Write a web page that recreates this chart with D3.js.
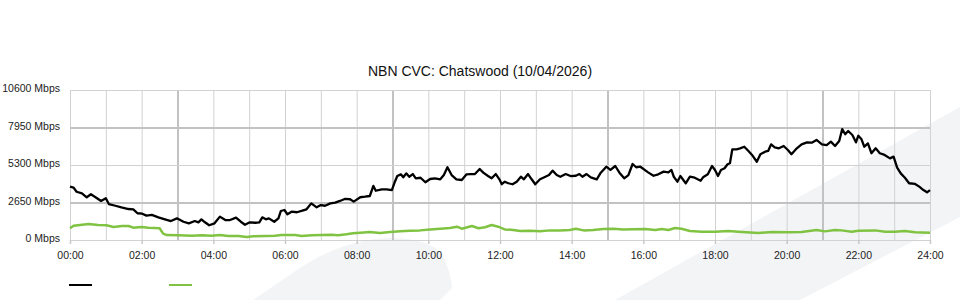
<html>
<head>
    <meta charset="utf-8">
    <title>NBN CVC: Chatswood</title>
    <style>
        body{
            margin: 0;
            background: #ffffff;
        }
        svg{
            display: block;
            font-family: "Liberation Sans", Arial, sans-serif;
        }
        .grid line{ stroke: #d2d2d2; stroke-width: 1; }
        .grid line.major{ stroke: #c2c2c2; stroke-width: 2; }
        .grid path{ display: none; }
    </style>
</head>
<body>
<script src="https://d3js.org/d3.v7.min.js"></script>
<script>
    // Chart data (times in minutes from 00:00, rates in Mbps)
    const chartTitle = "NBN CVC: Chatswood (10/04/2026)";
    const yTickValues = [0, 2650, 5300, 7950, 10600];
    const xTickLabels = ["00:00", "02:00", "04:00", "06:00", "08:00", "10:00", "12:00",
                         "14:00", "16:00", "18:00", "20:00", "22:00", "24:00"];
    const seriesNames = ["", ""];
    const seriesColors = ["#000000", "#80c342"];

    const downMinutes = [0, 6, 11, 20, 28, 35, 44, 52, 60, 65, 76, 86, 98, 106, 113, 121, 128, 137, 148, 159,
        169, 179, 190, 199, 209, 215, 220, 226, 233, 242, 251, 260, 268, 278, 286, 293, 301, 310, 317, 322,
        328, 333, 342, 349, 353, 359, 364, 371, 380, 389, 396, 404, 413, 420, 427, 436, 444, 452, 460, 469,
        475, 486, 494, 502, 508, 512, 522, 530, 539, 544, 548, 554, 558, 563, 568, 574, 579, 587, 595, 603,
        611, 620, 626, 632, 639, 647, 656, 664, 671, 678, 686, 692, 700, 706, 713, 719, 723, 728, 734, 741,
        748, 755, 760, 767, 773, 779, 787, 796, 802, 808, 815, 821, 830, 838, 847, 853, 858, 865, 872, 882,
        888, 898, 905, 913, 920, 928, 935, 942, 948, 955, 968, 977, 985, 994, 1002, 1007, 1011, 1017, 1022, 1031,
        1038, 1046, 1056, 1060, 1068, 1075, 1080, 1085, 1090, 1096, 1101, 1105, 1109, 1116, 1122, 1129, 1136, 1142, 1150, 1156,
        1164, 1169, 1174, 1180, 1187, 1195, 1202, 1208, 1217, 1225, 1234, 1242, 1250, 1259, 1267, 1274, 1281, 1288, 1293, 1298,
        1303, 1310, 1316, 1320, 1325, 1330, 1336, 1342, 1349, 1356, 1364, 1373, 1379, 1385, 1391, 1398, 1405, 1415, 1422, 1429,
        1435, 1440];
    const downMbps = [3770, 3700, 3410, 3300, 3020, 3230, 2990, 2760, 2950, 2540, 2420, 2310, 2190, 2170, 1890, 1860, 1720, 1770, 1600, 1460,
        1340, 1530, 1290, 1180, 1340, 1250, 1460, 1250, 1040, 1180, 1650, 1410, 1410, 1580, 1290, 1080, 1250, 1220, 1250, 1600,
        1460, 1530, 1290, 1530, 2050, 2120, 1820, 2000, 1960, 2070, 2170, 2590, 2310, 2470, 2420, 2590, 2640, 2760, 2900, 2880,
        2710, 3020, 3060, 3110, 3820, 3480, 3580, 3580, 3530, 4120, 4520, 4640, 4430, 4710, 4470, 4660, 4360, 4400, 4080, 4310,
        4360, 4290, 4590, 5140, 4590, 4290, 4240, 4640, 4660, 4660, 5020, 4760, 4520, 4360, 4660, 4290, 3940, 4120, 4010, 3940,
        4120, 4470, 4290, 4660, 4290, 3940, 4290, 4470, 4590, 4900, 4590, 4470, 4660, 4520, 4540, 4660, 4470, 4660, 4430, 4290,
        4710, 5180, 4950, 5230, 4760, 4360, 4590, 5370, 5140, 5180, 4780, 4540, 4640, 4830, 4780, 4950, 4470, 4120, 4520, 4010,
        4470, 4400, 4190, 4430, 4640, 5230, 4950, 4520, 4950, 5070, 5350, 5420, 6410, 6410, 6480, 6590, 6290, 6010, 5530, 6060,
        6240, 6290, 6760, 6550, 6480, 6640, 6360, 6060, 6480, 6760, 6900, 6880, 7070, 6760, 6710, 6950, 6640, 7000, 7840, 7470,
        7700, 7420, 6900, 7370, 7140, 6590, 6830, 6130, 6480, 6130, 6010, 5770, 5890, 5110, 4710, 4400, 4010, 3960, 3770, 3530,
        3370, 3530];

    const upMinutes = [0, 6, 17, 31, 47, 61, 73, 87, 98, 106, 120, 131, 142, 150, 156, 162, 181, 204, 221, 237,
        251, 265, 282, 296, 307, 327, 343, 354, 377, 388, 405, 421, 438, 449, 463, 474, 486, 502, 519, 536,
        553, 569, 586, 603, 620, 636, 648, 656, 673, 684, 695, 706, 717, 728, 742, 754, 770, 787, 804, 820,
        837, 847, 860, 876, 893, 910, 926, 943, 963, 980, 991, 1002, 1013, 1024, 1038, 1058, 1080, 1102, 1125, 1153,
        1175, 1203, 1225, 1250, 1264, 1281, 1292, 1309, 1320, 1348, 1365, 1381, 1398, 1415, 1440];
    const upMbps = [830, 1010, 1060, 1130, 1060, 1040, 920, 990, 990, 870, 920, 870, 850, 830, 450, 350, 330, 300, 330, 300,
        350, 280, 280, 210, 260, 280, 300, 350, 350, 280, 330, 350, 370, 330, 400, 470, 520, 570, 490, 570,
        610, 660, 680, 750, 800, 850, 940, 800, 990, 830, 900, 1060, 940, 750, 710, 640, 660, 610, 680, 680,
        710, 800, 680, 710, 780, 800, 750, 760, 780, 710, 780, 710, 850, 800, 640, 590, 590, 640, 570, 490,
        570, 540, 570, 710, 610, 710, 680, 590, 660, 680, 590, 590, 640, 540, 520];

    // Layout
    const width = 960;
    const height = 300;
    const plot = {left: 70, right: 930, top: 90, bottom: 240};

    const svg = d3.select("body")
                .append("svg")
                .attr("width", width)
                .attr("height", height);

    // faint background decoration
    svg.append("path")
        .attr("d", "M253,300 L300,268 C320,255 345,243 375,239 C400,236 425,240 438,250 C446,258 451,275 452,288 L440,300 Z")
        .attr("fill", "#f3f4f6");
    svg.append("path")
        .attr("d", "M615,300 L960,107 L960,217 L800,300 Z")
        .attr("fill", "#f3f4f6");

    // Scales
    const toMinutes = s => +s.slice(0, 2) * 60 + +s.slice(3);
    const xScale = d3.scaleLinear()
                    .domain([0, 24 * 60])
                    .range([plot.left, plot.right]);
    const yScale = d3.scaleLinear()
                    .domain([0, d3.max(yTickValues)])
                    .range([plot.bottom, plot.top]);

    // Grid: hourly verticals, heavier every 6h from 03:00
    const hourTicks = d3.range(0, 25).map(h => h * 60);
    svg.append("g")
        .attr("class", "grid")
        .attr("transform", "translate(0," + plot.bottom + ")")
        .call(d3.axisBottom(xScale).tickValues(hourTicks)
              .tickSize(-(plot.bottom - plot.top)).tickFormat(""))
        .selectAll("line")
        .classed("major", d => (d / 60) % 6 === 3);

    svg.append("g")
        .attr("class", "grid")
        .attr("transform", "translate(" + plot.left + ",0)")
        .call(d3.axisLeft(yScale).tickValues(yTickValues)
              .tickSize(-(plot.right - plot.left)).tickFormat(""))
        .selectAll("line")
        .classed("major", (d, i) => i % 2 === 1);

    // Axes labels
    const xAxis = d3.axisBottom(xScale)
                    .tickValues(xTickLabels.map(toMinutes))
                    .tickFormat((d, i) => xTickLabels[i])
                    .tickSize(4)
                    .tickPadding(8);
    const gx = svg.append("g")
        .attr("id", "x-axis")
        .attr("transform", "translate(0," + plot.bottom + ")")
        .call(xAxis);
    gx.select(".domain").remove();
    gx.selectAll("line").attr("stroke", "#c8c8c8").attr("stroke-width", 1.5);
    gx.selectAll("text").attr("fill", "#222").style("font-size", "10.5px");

    const yAxis = d3.axisLeft(yScale)
                    .tickValues(yTickValues)
                    .tickFormat(d => d + " Mbps")
                    .tickSize(0)
                    .tickPadding(10);
    const gy = svg.append("g")
        .attr("id", "y-axis")
        .attr("transform", "translate(" + plot.left + ",0)")
        .call(yAxis);
    gy.select(".domain").remove();
    gy.selectAll("text").attr("fill", "#222").attr("dy", "0.16em").style("font-size", "10.5px");

    // Lines
    const series = [
        {times: downMinutes, values: downMbps, color: seriesColors[0], width: 2.3},
        {times: upMinutes, values: upMbps, color: seriesColors[1], width: 2.5}
    ];
    const line = d3.line()
                   .x(d => xScale(d[0]))
                   .y(d => yScale(d[1]));

    series.slice().reverse().forEach(s => {
        svg.append("path")
            .datum(d3.zip(s.times, s.values))
            .attr("fill", "none")
            .attr("stroke", s.color)
            .attr("stroke-width", s.width)
            .attr("stroke-linejoin", "round")
            .attr("d", line);
    });

    // Title
    svg.append("text")
        .attr("x", width / 2)
        .attr("y", 76)
        .attr("text-anchor", "middle")
        .attr("fill", "#111")
        .style("font-size", "14px")
        .text(chartTitle);

    // Legend (swatches only)
    const legend = svg.append("g")
        .attr("transform", "translate(69,285)");
    seriesColors.forEach((c, i) => {
        const item = legend.append("g").attr("transform", "translate(" + (i * 100) + ",0)");
        item.append("line")
            .attr("x1", 0).attr("x2", 23)
            .attr("stroke", c)
            .attr("stroke-width", 2);
        item.append("text")
            .attr("x", 28).attr("dy", "0.32em")
            .style("font-size", "10.5px")
            .text(seriesNames[i]);
    });
</script>
</body>
</html>
